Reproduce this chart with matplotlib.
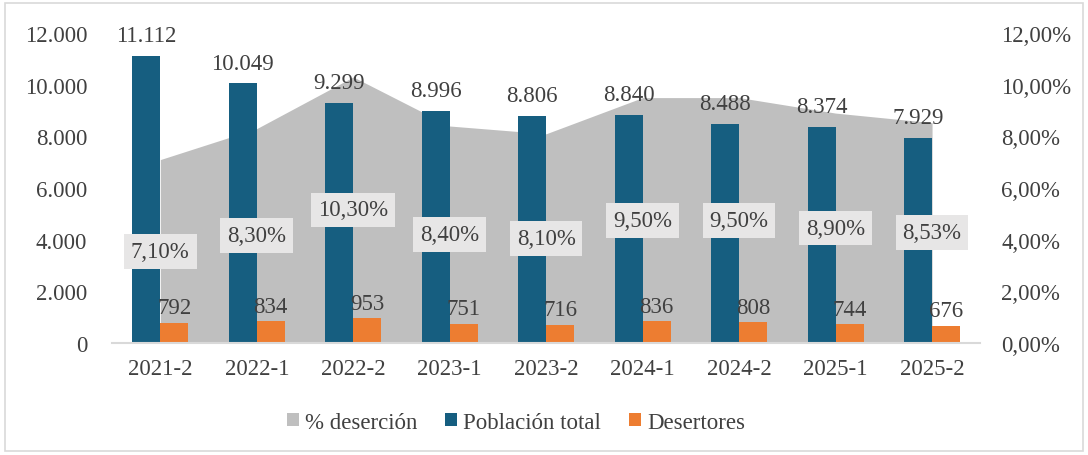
import numpy as np
import matplotlib.pyplot as plt
from matplotlib.patches import Rectangle

plt.rcParams['font.family'] = ['Liberation Serif', 'DejaVu Serif']

# data
periodos = ['2021-2', '2022-1', '2022-2', '2023-1', '2023-2', '2024-1', '2024-2', '2025-1', '2025-2']
poblacion = [11112, 10049, 9299, 8996, 8806, 8840, 8488, 8374, 7929]
desertores = [792, 834, 953, 751, 716, 836, 808, 744, 676]
pct_desercion = [7.10, 8.30, 10.30, 8.40, 8.10, 9.50, 9.50, 8.90, 8.53]

azul = '#165E80'
naranja = '#ED7D31'
gris = '#BFBFBF'
texto = '#404040'
fs = 16.5

def miles(v):
    return f'{v:,.0f}'.replace(',', '.')

def pct(v):
    return f'{v:.2f}%'.replace('.', ',')

fig = plt.figure(figsize=(10.88, 4.56), dpi=100)
ax = fig.add_axes([0.103, 0.2456, 0.798, 0.6798])
ax2 = ax.twinx()
ax.set_zorder(ax2.get_zorder() + 1)
ax.patch.set_visible(False)

x = np.arange(len(periodos))
w = 0.29

# area on secondary axis (drawn behind the bars)
ax2.fill_between(x, 0, pct_desercion, color=gris, linewidth=0, label='% deserción')
ax2.set_ylim(0, 12)
ax2.set_yticks(np.arange(0, 13, 2))
ax2.set_yticklabels([pct(v) for v in np.arange(0, 13, 2)])

b1 = ax.bar(x - w / 2, poblacion, w, color=azul, label='Población total')
b2 = ax.bar(x + w / 2, desertores, w, color=naranja, label='Desertores')
ax.set_ylim(0, 12000)
ax.set_xlim(-0.5, len(periodos) - 0.5)
ax.set_yticks(np.arange(0, 12001, 2000))
ax.set_yticklabels([miles(v) for v in np.arange(0, 12001, 2000)])
ax.set_xticks(x)
ax.set_xticklabels(periodos)

for a in (ax, ax2):
    for s in a.spines.values():
        s.set_visible(False)
    a.tick_params(length=0, labelsize=fs, labelcolor=texto)
ax.tick_params(axis='y', pad=18)
ax.tick_params(axis='x', pad=11)
ax2.tick_params(axis='y', pad=15)
ax.spines['bottom'].set_visible(True)
ax.spines['bottom'].set_color('#D9D9D9')
ax.spines['bottom'].set_linewidth(1.5)

for rect, v in zip(b1, poblacion):
    ax.annotate(miles(v), (rect.get_x() + rect.get_width() / 2, v), xytext=(0, 7),
                textcoords='offset points', ha='center', va='bottom', fontsize=fs, color=texto)
for rect, v in zip(b2, desertores):
    ax.annotate(miles(v), (rect.get_x() + rect.get_width() / 2, v), xytext=(0, 3),
                textcoords='offset points', ha='center', va='bottom', fontsize=fs, color=texto)

# percent labels in the middle of the area, on top of the bars
for xi, v in zip(x, pct_desercion):
    ax.text(xi, v / 2, pct(v), transform=ax2.transData, ha='center', va='center',
            fontsize=fs, color=texto, zorder=5,
            bbox=dict(boxstyle='square,pad=0.3', facecolor='#E7E6E6', edgecolor='none'))

h2, l2 = ax2.get_legend_handles_labels()
h1, l1 = ax.get_legend_handles_labels()
fig.legend(h2 + h1, l2 + l1, loc='center', bbox_to_anchor=(0.474, 0.072), ncol=3,
           frameon=False, prop={'family': 'Liberation Serif', 'size': fs}, labelcolor=texto,
           handlelength=0.55, handleheight=0.55, handletextpad=0.25, columnspacing=1.2)

fig.patches.append(Rectangle((0.005, 0.008), 0.99, 0.984, transform=fig.transFigure,
                             fill=False, edgecolor='#D9D9D9', linewidth=1.2))

plt.savefig('out.png', dpi=100)
